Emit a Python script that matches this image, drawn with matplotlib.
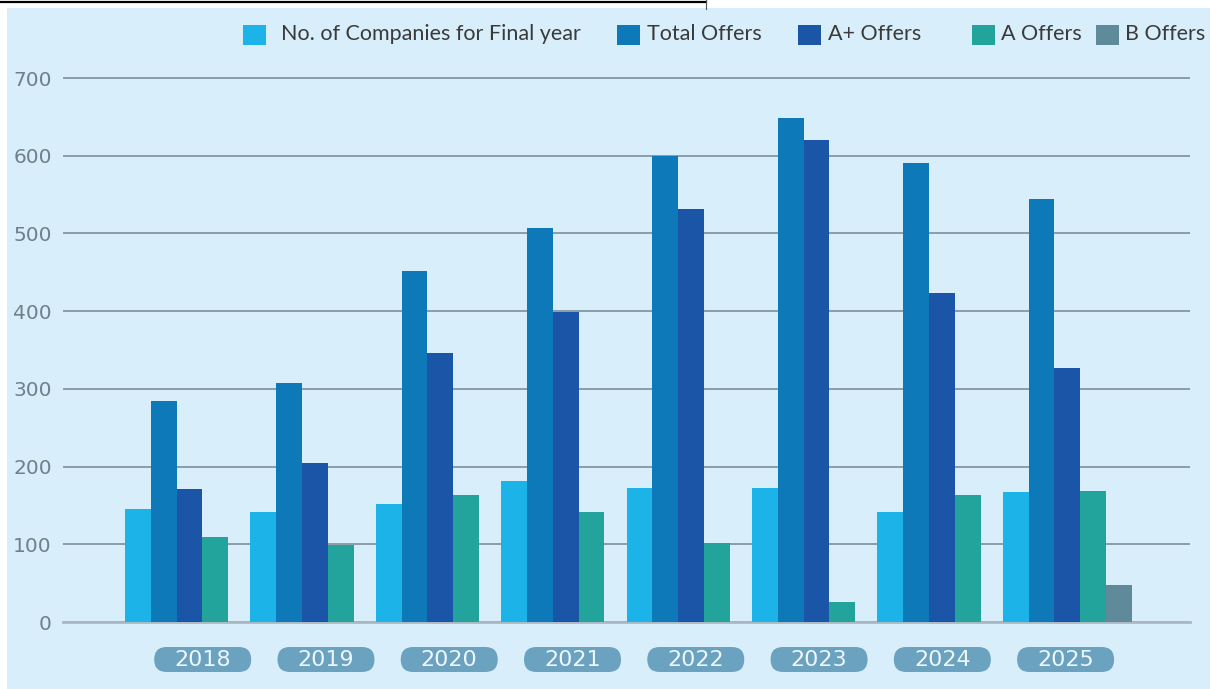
import numpy as np
import matplotlib.pyplot as plt
from matplotlib.patches import FancyBboxPatch, Rectangle
from matplotlib.lines import Line2D
from matplotlib.transforms import IdentityTransform

# data
years = ['2018', '2019', '2020', '2021', '2022', '2023', '2024', '2025']
companies = [145, 141, 152, 182, 172, 172, 141, 167]
total_offers = [284, 307, 452, 507, 600, 649, 591, 544]
a_plus_offers = [171, 205, 346, 399, 532, 620, 423, 327]
a_offers = [109, 99, 164, 141, 102, 26, 164, 168]
b_offers = [0, 0, 0, 0, 0, 0, 0, 48]

labels = ['No. of Companies for Final year', 'Total Offers', 'A+ Offers', 'A Offers', 'B Offers']
colors = ['#1cb4e8', '#0e79b9', '#1a55a7', '#22a39c', '#5f8a9a']
bg = '#d9eefb'

W, H = 1210, 689
fig = plt.figure(figsize=(W / 100, H / 100), dpi=100)
fig.patch.set_facecolor('white')
px = IdentityTransform()

# light blue panel and the thin rule on top
fig.add_artist(Rectangle((7, 0), W - 7, H - 8, transform=px, fc=bg, ec='none', zorder=-10))
fig.add_artist(Line2D([0, 706], [H - 2, H - 2], transform=px, color='black', lw=1.6))
fig.add_artist(Line2D([706, 706], [H - 9, H], transform=px, color='#555555', lw=0.8))

unit = 544 / 700  # px per value
ytop = 704
ax = fig.add_axes([63 / W, (H - 622) / H, (1190 - 63) / W, ytop * unit / H])
ax.set_facecolor('none')

x = np.arange(len(years))
w = 0.206
series = [companies, total_offers, a_plus_offers, a_offers, b_offers]
for k, vals in enumerate(series):
    ax.bar(x + k * w, vals, width=w, align='edge', color=colors[k], linewidth=0, zorder=2)

ax.set_xlim(-0.494, 8.493)
ax.set_ylim(0, ytop)
ax.set_yticks(range(0, 701, 100))
ax.yaxis.grid(True, color='#8396a2', lw=1.3)
ax.set_axisbelow(True)
for s in ['top', 'right', 'left']:
    ax.spines[s].set_visible(False)
ax.spines['bottom'].set_color('#aab9c3')
ax.spines['bottom'].set_linewidth(2)
ax.spines['bottom'].set_zorder(1)
ax.tick_params(axis='y', length=0, pad=8, labelsize=14.5, labelcolor='#6f8089')
ax.tick_params(axis='x', length=0, labelbottom=False)

# year pills under the groups
pill_pos = x * 0.983 + 0.62
for pos, yr in zip(pill_pos, years):
    cx = ax.transData.transform((pos, 0))[0]
    fig.add_artist(FancyBboxPatch((cx - 48.5, 17), 97, 25, boxstyle='round,pad=0,rounding_size=12.5',
                                  transform=px, fc='#6aa2bf', ec='none'))
    fig.text(cx, 29.5, yr, transform=px, ha='center', va='center', color='#eef7fc', fontsize=16)

# legend along the top
sq_x = [243, 617, 798, 972, 1096]
txt_x = [281, 647, 828, 1001, 1125]
for lab, c, sx, tx in zip(labels, colors, sq_x, txt_x):
    fig.add_artist(Rectangle((sx, H - 45), 23, 20, transform=px, fc=c, ec='none'))
    fig.text(tx, H - 34, lab, transform=px, ha='left', va='center', color='#3a3a3a',
             fontsize=15.5, family='Lato')

fig.savefig('out.png', dpi=100)
